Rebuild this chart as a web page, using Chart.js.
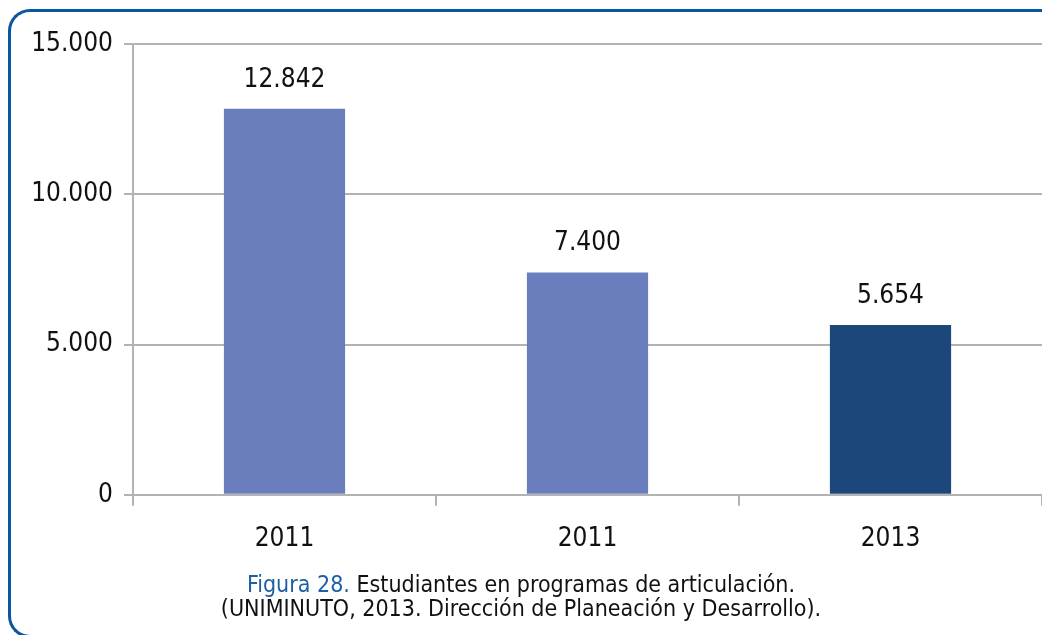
<!DOCTYPE html>
<html>
<head>
<meta charset="utf-8">
<script src="https://cdn.jsdelivr.net/npm/chart.js@4.4.1/dist/chart.umd.min.js"></script>
<style>
  html, body { margin: 0; padding: 0; background: #fff; overflow: hidden; }
  body { width: 1042px; height: 635px; position: relative; font-family: "DejaVu Sans Condensed", "DejaVu Sans", sans-serif; }
  #frame {
    position: absolute; left: 8px; top: 9px; width: 1034px; height: 629px;
    border: 3px solid #0b56a0; border-right: none;
    border-radius: 22px 0 0 22px; box-sizing: border-box;
  }
  #wrap { position: absolute; left: 0; top: 0; width: 1042px; height: 573px; }
  #caption {
    position: absolute; left: 0; width: 1042px; top: 572px;
    text-align: center; font-size: 23px; line-height: 24px; color: #111;
  }
  #caption .fig { color: #1f5fa6; }
</style>
</head>
<body>
<div id="frame"></div>
<div id="wrap"><canvas id="chart"></canvas></div>
<div id="caption">
  <span class="fig">Figura 28.</span> Estudiantes en programas de articulación.<br>
  (UNIMINUTO, 2013. Dirección de Planeación y Desarrollo).
</div>
<script>
const years = ["2011", "2011", "2013"];
const students = [12842, 7400, 5654];
const barColors = ["#6a7ebd", "#6a7ebd", "#1b477b"];
const yTicks = [0, 5000, 10000, 15000];

const fontFamily = '"DejaVu Sans Condensed", "DejaVu Sans", sans-serif';

// 15000 -> "15.000"
function fmt(n) {
  return String(n).replace(/\B(?=(\d{3})+(?!\d))/g, ".");
}

// value labels above the bars
const valueLabels = {
  id: "valueLabels",
  afterDatasetsDraw(chart) {
    const ctx = chart.ctx;
    const meta = chart.getDatasetMeta(0);
    ctx.save();
    ctx.font = "26px " + fontFamily;
    ctx.fillStyle = "#111";
    ctx.textAlign = "center";
    ctx.textBaseline = "middle";
    meta.data.forEach((bar, i) => {
      ctx.fillText(fmt(students[i]), bar.x, bar.y - 29);
    });
    ctx.restore();
  }
};

const ctx = document.getElementById("chart").getContext("2d");
new Chart(ctx, {
  type: "bar",
  data: {
    labels: years,
    datasets: [{
      data: students,
      backgroundColor: barColors,
      borderWidth: 0,
      categoryPercentage: 1,
      barPercentage: 0.4,
    }],
  },
  options: {
    responsive: true,
    maintainAspectRatio: false,
    animation: false,
    layout: { padding: { top: 44, right: 0, left: 0, bottom: 0 } },
    plugins: {
      legend: { display: false },
      tooltip: { enabled: false },
    },
    scales: {
      x: {
        grid: {
          display: true,
          drawOnChartArea: false,
          offset: true,
          color: "#b3b3b3",
          lineWidth: 2,
          tickLength: 11,
        },
        border: { color: "#b3b3b3", width: 2 },
        ticks: {
          color: "#111",
          padding: 18,
          font: { family: fontFamily, size: 26 },
        },
      },
      y: {
        min: 0,
        max: 15000,
        afterFit(scale) { scale.width = 133; },
        afterBuildTicks(scale) { scale.ticks = yTicks.map(v => ({ value: v })); },
        grid: { color: "#b3b3b3", lineWidth: 2, tickLength: 9 },
        border: { color: "#b3b3b3", width: 2 },
        ticks: {
          color: "#111",
          padding: 11,
          font: { family: fontFamily, size: 26 },
          callback: v => fmt(v),
        },
      },
    },
  },
  plugins: [valueLabels],
});
</script>
</body>
</html>
